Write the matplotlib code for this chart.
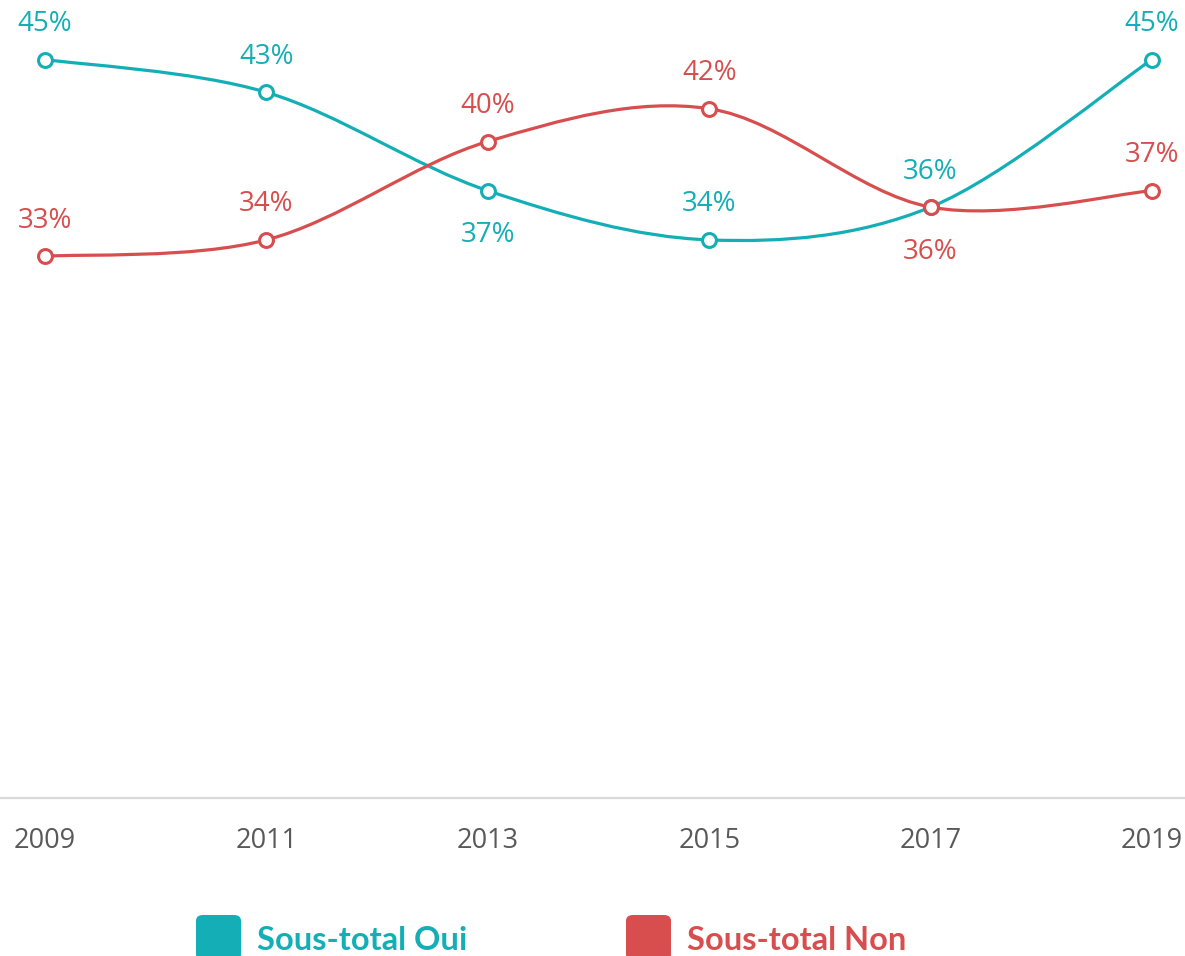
import matplotlib
matplotlib.use('Agg')
import matplotlib.pyplot as plt
from matplotlib.path import Path
from matplotlib.patches import PathPatch, FancyBboxPatch

years = [2009, 2011, 2013, 2015, 2017, 2019]
oui = [45, 43, 37, 34, 36, 45]
non = [33, 34, 40, 42, 36, 37]
# label placement: 1 above the point, -1 below
oui_pos = [1, 1, -1, 1, 1, 1]
non_pos = [1, 1, 1, 1, -1, 1]

teal = '#14AFB6'
red = '#D84E4E'

plt.rcParams['font.family'] = ['Open Sans', 'DejaVu Sans']

fig = plt.figure(figsize=(11.85, 9.56), dpi=100)
ax = fig.add_axes([0, 1 - 797.5 / 956, 1, 797.5 / 956])
ax.set_xlim(2009 - 45 / 110.7, 2019 + 33 / 110.7)
ax.set_ylim(0, 797.5 / 16.4)


def smooth_path(xs, ys):
    # Excel-like smoothed line: cubic bezier through every point
    pts = list(zip(xs, ys))
    ext = [pts[0]] + pts + [pts[-1]]
    verts = [pts[0]]
    codes = [Path.MOVETO]
    for i in range(len(pts) - 1):
        p0, p1, p2, p3 = ext[i], ext[i + 1], ext[i + 2], ext[i + 3]
        c1 = (p1[0] + (p2[0] - p0[0]) / 6, p1[1] + (p2[1] - p0[1]) / 6)
        c2 = (p2[0] - (p3[0] - p1[0]) / 6, p2[1] - (p3[1] - p1[1]) / 6)
        verts += [c1, c2, p2]
        codes += [Path.CURVE4] * 3
    return Path(verts, codes)


for vals, col, pos in [(oui, teal, oui_pos), (non, red, non_pos)]:
    ax.add_patch(PathPatch(smooth_path(years, vals), fill=False, edgecolor=col,
                           lw=2.3, capstyle='round', zorder=2))
    ax.plot(years, vals, ls='none', marker='o', ms=10, mfc='white', mec=col,
            mew=2.2, zorder=3)
    for x, v, p in zip(years, vals, pos):
        off = 25.5 if p > 0 else -32
        ax.annotate(f'{v}%', (x, v), xytext=(0, off), textcoords='offset points',
                    ha='center', va='center', fontsize=20, color=col)

for s in ['top', 'left', 'right']:
    ax.spines[s].set_visible(False)
ax.spines['bottom'].set_color('#D9D9D9')
ax.spines['bottom'].set_linewidth(1.6)
ax.set_yticks([])
ax.set_xticks(years)
ax.set_xticklabels([str(y) for y in years], fontsize=19.5, color='#595959')
ax.tick_params(axis='x', length=0, pad=21)

# legend, partly cut by the bottom edge as in the source
W, H = 1185, 956
for x0, col, txt in [(196, teal, 'Sous-total Oui'), (626, red, 'Sous-total Non')]:
    fig.patches.append(FancyBboxPatch((x0 / W, 1 - 960 / H), 45 / W, 45 / H,
                                      boxstyle='round,pad=0,rounding_size=0.006',
                                      transform=fig.transFigure, facecolor=col,
                                      edgecolor='none'))
    fig.text((x0 + 61) / W, 1 - 941 / H, txt, fontsize=23.5, fontweight='bold',
             color=col, family=['Lato', 'DejaVu Sans'], va='center', ha='left')

fig.savefig('out.png', dpi=100)
